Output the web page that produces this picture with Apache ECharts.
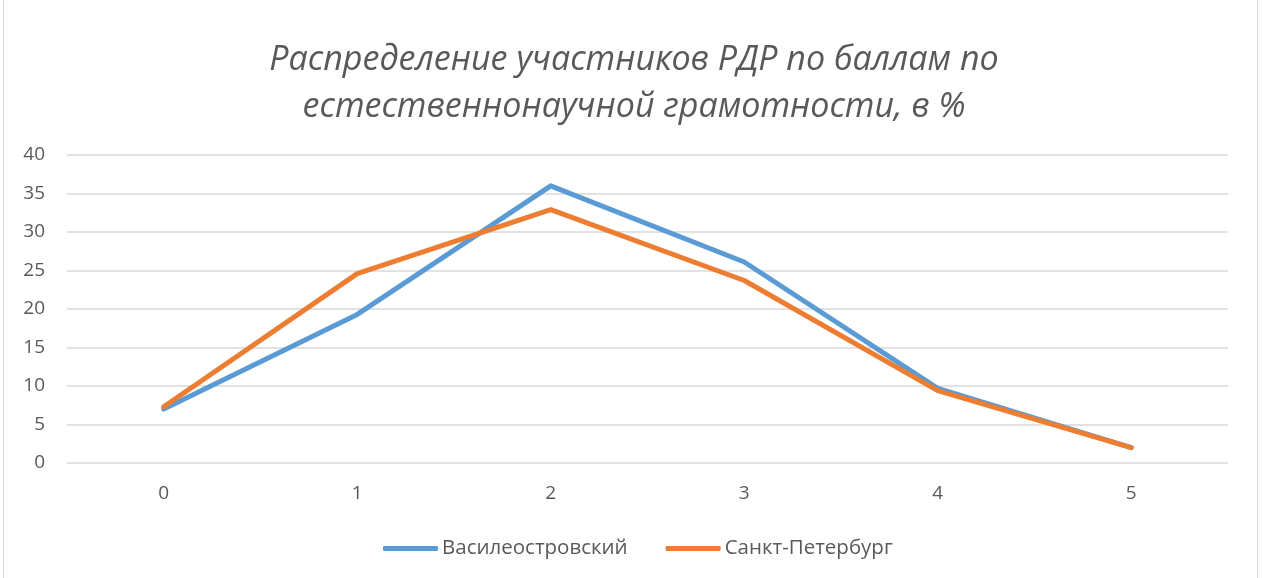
<!DOCTYPE html>
<html>
<head>
<meta charset="utf-8">
<script src="https://cdn.jsdelivr.net/npm/echarts@6/dist/echarts.min.js"></script>
<style>
  html, body { margin: 0; padding: 0; background: #fff; }
  #chart { width: 1268px; height: 578px; }
</style>
</head>
<body>
<div id="chart"></div>
<script>
// данные графика
var categories = ['0', '1', '2', '3', '4', '5'];
var vasileostrovsky = [7.0, 19.3, 36.0, 26.1, 9.7, 2.0];
var spb = [7.3, 24.6, 32.9, 23.7, 9.4, 2.0];
var yTicks = { min: 0, max: 40, interval: 5 };

var myChart = echarts.init(document.getElementById('chart'));
var labelColor = '#595959';

var option = {
    animation: false,
    title: {
        text: 'Распределение участников РДР по баллам по\nестественнонаучной грамотности, в %',
        left: 'center',
        top: 32,
        textStyle: {
            fontFamily: 'Open Sans',
            fontStyle: 'italic',
            fontWeight: 'normal',
            fontSize: 34,
            color: labelColor,
            lineHeight: 47
        }
    },
    graphic: [{
        type: 'rect',
        shape: { x: 3.5, y: -1, width: 1254, height: 580 },
        style: { fill: 'none', stroke: '#d9d9d9', lineWidth: 1 },
        silent: true
    }],
    legend: {
        bottom: 14,
        left: 378,
        itemWidth: 55,
        itemHeight: 5,
        itemGap: 38,
        icon: 'roundRect',
        textStyle: { fontFamily: 'Open Sans', fontSize: 20.5, color: labelColor, padding: [0, 0, 0, -1] },
        data: ['Василеостровский', 'Санкт-Петербург']
    },
    grid: { left: 67, right: 40, top: 155, bottom: 115 },
    xAxis: {
        type: 'category',
        data: categories,
        boundaryGap: true,
        axisLine: { show: false },
        axisTick: { show: false },
        axisLabel: { fontFamily: 'Open Sans', fontSize: 19, color: labelColor, margin: 21 }
    },
    yAxis: {
        type: 'value',
        min: yTicks.min,
        max: yTicks.max,
        interval: yTicks.interval,
        axisLine: { show: false },
        axisTick: { show: false },
        axisLabel: { fontFamily: 'Open Sans', fontSize: 19, color: labelColor, margin: 22 },
        splitLine: { lineStyle: { color: '#d9d9d9', width: 1.5 } }
    },
    series: [{
        name: 'Василеостровский',
        type: 'line',
        data: vasileostrovsky,
        symbol: 'none',
        color: '#5B9BD5',
        lineStyle: { width: 5, cap: 'round', join: 'round' }
    }, {
        name: 'Санкт-Петербург',
        type: 'line',
        data: spb,
        symbol: 'none',
        color: '#ED7D31',
        lineStyle: { width: 5, cap: 'round', join: 'round' }
    }]
};

myChart.setOption(option);
</script>
</body>
</html>
